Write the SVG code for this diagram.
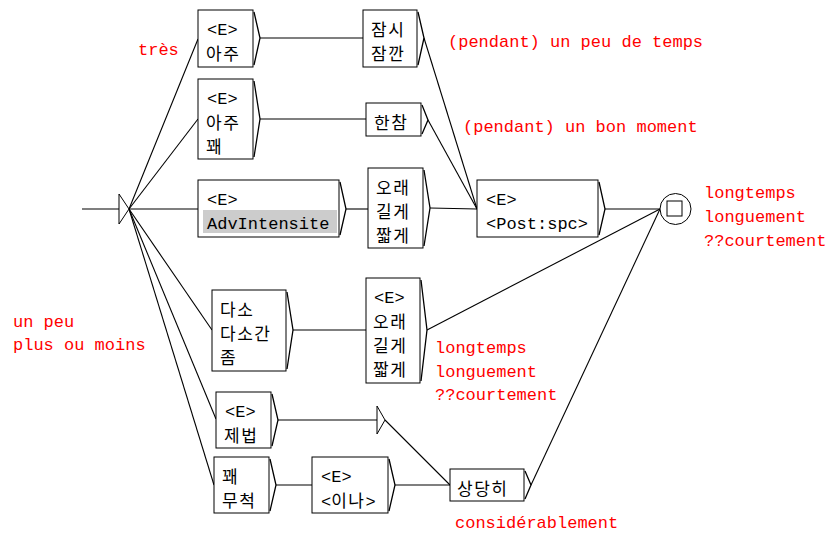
<svg xmlns="http://www.w3.org/2000/svg" width="830" height="536" viewBox="0 0 830 536">
<style>
.b{fill:#fff;stroke:#000;stroke-width:1}
.k{fill:none;stroke:#000;stroke-width:1.3}
.t{font-family:"Liberation Mono","Noto Sans CJK KR",monospace;font-size:17px;fill:#000}
.h{font-family:"Noto Sans CJK KR",sans-serif;font-size:17px;letter-spacing:1.5px}
.r{font-family:"Liberation Mono","Noto Sans CJK KR",monospace;font-size:17px;fill:#ff0000}
#edges line,#edges polyline{stroke:#000;stroke-width:1.1;fill:none}
</style>
<rect width="830" height="536" fill="#fff"/>
<g id="edges">
<line x1="82" y1="209" x2="119" y2="209"/>
<line x1="129" y1="209" x2="198" y2="39"/>
<line x1="129" y1="209" x2="198" y2="119"/>
<line x1="129" y1="209" x2="198" y2="209"/>
<line x1="129" y1="209" x2="212" y2="330"/>
<line x1="129" y1="209" x2="216" y2="419"/>
<line x1="129" y1="209" x2="214" y2="485"/>
<line x1="260" y1="38" x2="363" y2="38"/>
<line x1="260" y1="119" x2="366" y2="119"/>
<line x1="346" y1="209" x2="368" y2="209"/>
<line x1="424" y1="38" x2="477" y2="209"/>
<line x1="428" y1="120" x2="477" y2="209"/>
<line x1="430" y1="208" x2="477" y2="209"/>
<line x1="605" y1="209" x2="660" y2="209"/>
<line x1="293" y1="330" x2="366" y2="330"/>
<line x1="427" y1="330" x2="660" y2="209"/>
<line x1="278" y1="420" x2="377" y2="420"/>
<line x1="385" y1="420" x2="450" y2="485"/>
<line x1="276" y1="485" x2="312" y2="485"/>
<line x1="395" y1="485" x2="450" y2="485"/>
<line x1="531" y1="485" x2="660" y2="209"/>
</g>
<g id="init"><polygon points="119,194 129,209 119,224" class="b"/></g>
<g id="final"><circle cx="675.5" cy="209" r="15.5" class="b"/><rect x="667" y="201" width="15" height="15" class="b"/></g>
<g id="eps"><polygon points="377,406 385,420 377,434" class="b"/></g>
<g id="n1"><rect x="198" y="10" width="55" height="57" class="b"/><polyline points="254,12 260,38 254,65" class="k"/><text class="t" x="207" y="35">&lt;E&gt;</text><text class="t h" x="206" y="60">아주</text></g>
<g id="n2"><rect x="198" y="79" width="55" height="80" class="b"/><polyline points="254,81 260,119 254,157" class="k"/><text class="t" x="207" y="104">&lt;E&gt;</text><text class="t h" x="206" y="129">아주</text><text class="t h" x="206" y="153">꽤</text></g>
<g id="n3"><rect x="198" y="180" width="141" height="57" class="b"/><rect x="203" y="210" width="134" height="23" fill="#cccccc"/><polyline points="340,182 346,209 340,235" class="k"/><text class="t" x="207" y="205">&lt;E&gt;</text><text class="t" x="207" y="229">AdvIntensite</text></g>
<g id="n4"><rect x="363" y="10" width="54" height="57" class="b"/><polyline points="418,12 424,38 418,65" class="k"/><text class="t h" x="371" y="36">잠시</text><text class="t h" x="371" y="60">잠깐</text></g>
<g id="n5"><rect x="366" y="103" width="55" height="33" class="b"/><polyline points="422,105 428,120 422,134" class="k"/><text class="t h" x="374" y="129">한참</text></g>
<g id="n6"><rect x="368" y="168" width="55" height="80" class="b"/><polyline points="424,170 430,208 424,246" class="k"/><text class="t h" x="376" y="194">오래</text><text class="t h" x="376" y="218">길게</text><text class="t h" x="376" y="242">짧게</text></g>
<g id="n7"><rect x="477" y="180" width="121" height="57" class="b"/><polyline points="599,182 605,209 599,235" class="k"/><text class="t" x="486" y="205">&lt;E&gt;</text><text class="t" x="486" y="229">&lt;Post:spc&gt;</text></g>
<g id="n8"><rect x="212" y="290" width="74" height="81" class="b"/><polyline points="287,292 293,330 287,369" class="k"/><text class="t h" x="220" y="316">다소</text><text class="t h" x="220" y="340">다소간</text><text class="t h" x="220" y="364">좀</text></g>
<g id="n9"><rect x="366" y="278" width="54" height="105" class="b"/><polyline points="421,280 427,330 421,381" class="k"/><text class="t" x="374" y="303">&lt;E&gt;</text><text class="t h" x="373" y="328">오래</text><text class="t h" x="373" y="352">길게</text><text class="t h" x="373" y="376">짧게</text></g>
<g id="n10"><rect x="216" y="392" width="55" height="56" class="b"/><polyline points="272,394 278,420 272,446" class="k"/><text class="t" x="225" y="417">&lt;E&gt;</text><text class="t h" x="224" y="442">제법</text></g>
<g id="n11"><rect x="214" y="457" width="55" height="56" class="b"/><polyline points="270,459 276,485 270,511" class="k"/><text class="t h" x="222" y="483">꽤</text><text class="t h" x="222" y="507">무척</text></g>
<g id="n12"><rect x="312" y="457" width="76" height="56" class="b"/><polyline points="389,459 395,485 389,511" class="k"/><text class="t" x="321" y="482">&lt;E&gt;</text><text class="t" x="321" y="507">&lt;<tspan class="h">이나</tspan>&gt;</text></g>
<g id="n13"><rect x="450" y="469" width="74" height="32" class="b"/><polyline points="525,471 531,485 525,499" class="k"/><text class="t h" x="457" y="495">상당히</text></g>
<g id="labels">
<text class="r" x="138" y="55">très</text>
<text class="r" x="448" y="47">(pendant) un peu de temps</text>
<text class="r" x="463" y="132">(pendant) un bon moment</text>
<text class="r" x="704" y="198">longtemps</text>
<text class="r" x="704" y="222">longuement</text>
<text class="r" x="704" y="246">??courtement</text>
<text class="r" x="435" y="353">longtemps</text>
<text class="r" x="435" y="377">longuement</text>
<text class="r" x="435" y="400">??courtement</text>
<text class="r" x="455" y="528">considérablement</text>
<text class="r" x="13" y="327">un peu</text>
<text class="r" x="13" y="350">plus ou moins</text>
</g>
</svg>
